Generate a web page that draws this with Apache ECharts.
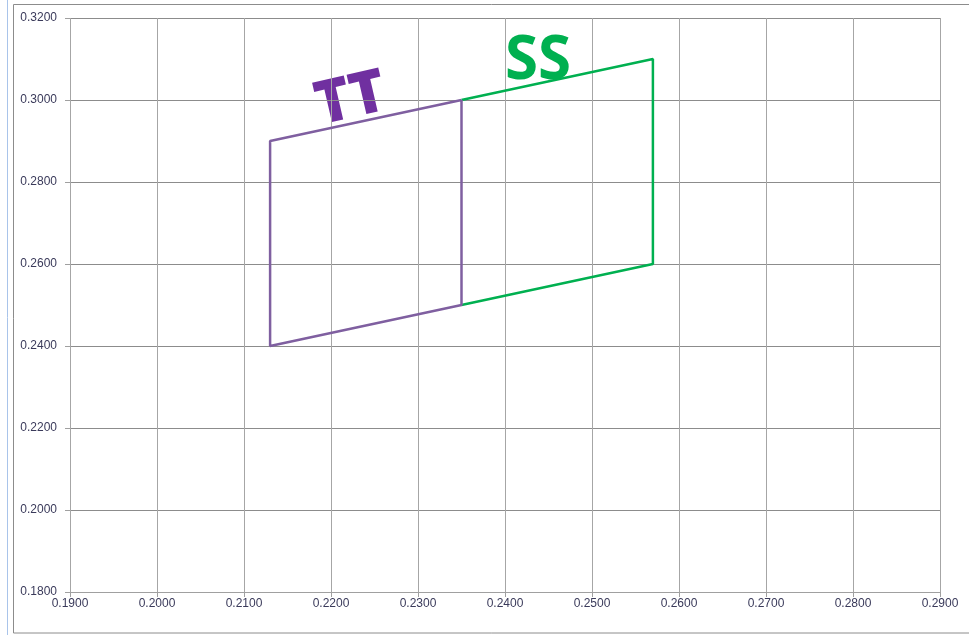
<!DOCTYPE html>
<html><head><meta charset="utf-8">
<script src="https://cdn.jsdelivr.net/npm/echarts@6/dist/echarts.min.js"></script>
<style>html,body{margin:0;padding:0;background:#fff}#c{width:969px;height:635px}</style>
</head><body><div id="c"></div>
<script>
const ttX = [0.235, 0.213, 0.213, 0.235, 0.235];
const ttY = [0.300, 0.290, 0.240, 0.250, 0.300];
const ssX = [0.235, 0.257, 0.257, 0.235];
const ssY = [0.300, 0.310, 0.260, 0.250];
const seriesNames = ['TT', 'SS'];
const xMin = 0.19, xMax = 0.29, xStep = 0.01;
const yMin = 0.18, yMax = 0.32, yStep = 0.02;

const zip = (a, b) => a.map((v, i) => [v, b[i]]);
const chart = echarts.init(document.getElementById('c'));
const axisLabel = {color: '#3a3a5a', fontFamily: 'Liberation Sans, Arial', fontSize: 12, formatter: v => v.toFixed(4)};
chart.setOption({
  animation: false,
  grid: {left: 70, right: 29, top: 18, bottom: 43},
  xAxis: {type: 'value', min: xMin, max: xMax, interval: xStep,
    axisLine: {show: true, onZero: false, lineStyle: {color: '#a0a0a0'}},
    axisTick: {show: true, length: 5, lineStyle: {color: '#a0a0a0'}},
    splitLine: {show: true, lineStyle: {color: '#a6a6a6'}},
    axisLabel: Object.assign({margin: 6}, axisLabel)},
  yAxis: {type: 'value', min: yMin, max: yMax, interval: yStep,
    axisLine: {show: false},
    axisTick: {show: true, length: 5, lineStyle: {color: '#a0a0a0'}},
    splitLine: {show: true, lineStyle: {color: '#8c8c8c'}},
    axisLabel: Object.assign({margin: 13}, axisLabel)},
  series: [
    {name: seriesNames[1], type: 'line', data: zip(ssX, ssY), symbol: 'none', z: 2,
      lineStyle: {color: '#00b050', width: 2.5}},
    {name: seriesNames[0], type: 'line', data: zip(ttX, ttY), symbol: 'none', z: 3,
      lineStyle: {color: '#7f5fa0', width: 2.5}}
  ],
  graphic: [
    {type: 'rect', shape: {x: 13.5, y: 4.5, width: 970, height: 628.5}, style: {fill: 'none', stroke: '#8c8c8c', lineWidth: 1}, silent: true},
    {type: 'line', shape: {x1: 7.5, y1: 0, x2: 7.5, y2: 635}, style: {stroke: '#a9c4ea', lineWidth: 1}, silent: true},
    {type: 'text', x: 351, y: 100, rotation: 13 * Math.PI / 180, style: {text: seriesNames[0], fill: '#7030a0', font: '800 60px "Open Sans", sans-serif', align: 'center', verticalAlign: 'middle'}},
    {type: 'text', x: 538, y: 62, style: {text: seriesNames[1], fill: '#00b050', font: 'bold 60px "Open Sans", sans-serif', align: 'center', verticalAlign: 'middle'}}
  ]
});
</script></body></html>
